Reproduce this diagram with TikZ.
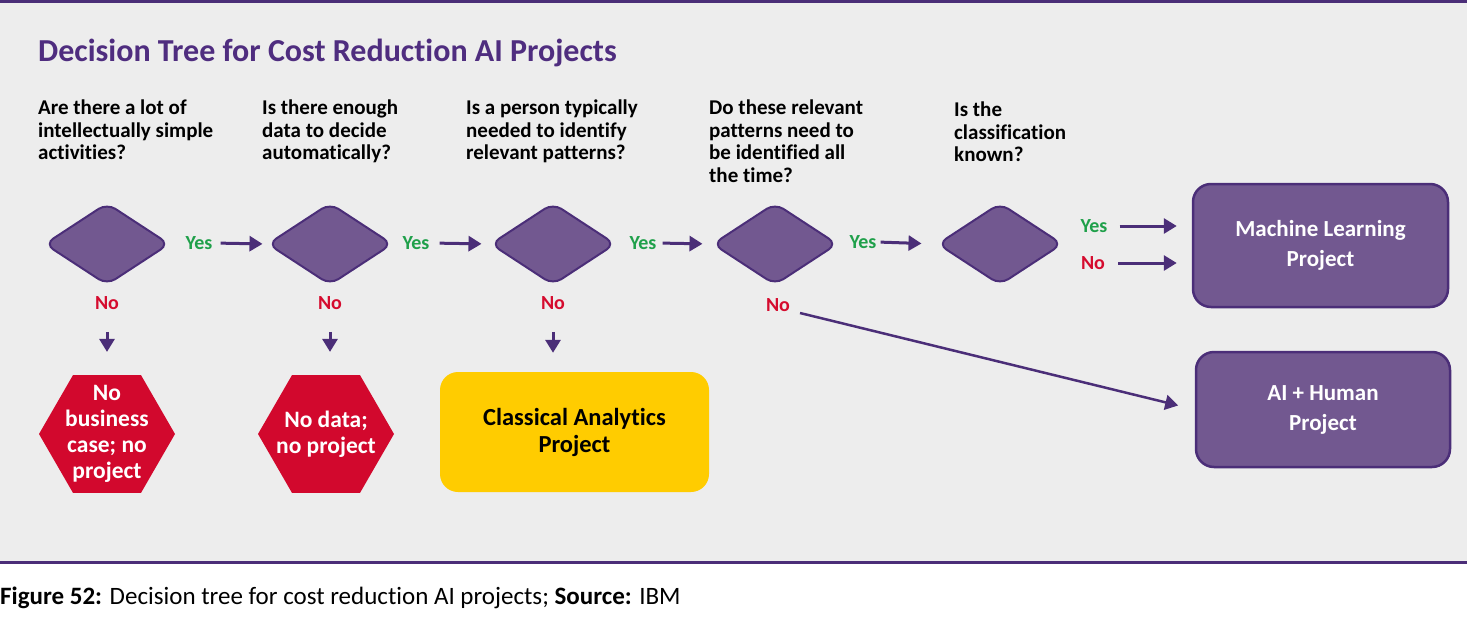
\documentclass[tikz,border=0pt]{standalone}
\usepackage{fontspec}
\setmainfont{Carlito}[Ligatures=NoCommon]
\usetikzlibrary{shapes.geometric,arrows.meta}
\definecolor{bgc}{HTML}{EDEDED}
\definecolor{purp}{HTML}{725890}
\definecolor{purpd}{HTML}{4B2E78}
\definecolor{titlec}{HTML}{4F2D7F}
\definecolor{yesc}{HTML}{1FA04A}
\definecolor{noc}{HTML}{D50B2E}
\definecolor{hexc}{HTML}{D2082D}
\definecolor{yel}{HTML}{FFCC00}
\tikzset{
  dec/.style={diamond, draw=purpd, fill=purp, line width=2pt, rounded corners=10pt,
    minimum width=125pt, minimum height=82pt, inner sep=0pt},
  hexa/.style={regular polygon, regular polygon sides=6, fill=hexc, minimum size=136pt, inner sep=0pt},
  hextext/.style={align=center, text=white, font=\fontsize{23.5}{26}\selectfont\bfseries, inner sep=0pt},
  question/.style={anchor=north west, align=left, inner sep=0pt, font=\fontsize{21}{22.5}\selectfont\bfseries},
  yeslab/.style={text=yesc, font=\fontsize{20}{22}\selectfont\bfseries, inner sep=0pt},
  nolab/.style={text=noc, font=\fontsize{20}{22}\selectfont\bfseries, inner sep=0pt},
  arr/.style={draw=purpd, line width=3pt, -{Triangle[length=13pt,width=15pt]}},
  resbox/.style={draw=purpd, fill=purp, line width=2.5pt, rounded corners=18pt, align=center,
    text=white, font=\fontsize{23}{30}\selectfont\bfseries},
}
\begin{document}
\begin{tikzpicture}[x=1pt,y=-1pt]
\useasboundingbox (0,0) rectangle (1467,618);
\fill[white] (0,0) rectangle (1467,618);
\fill[bgc] (0,3) rectangle (1467,562);
\draw[purpd, line width=3pt] (0,2) -- (1467,2);
\draw[purpd, line width=3pt] (0,562) -- (1467,562);

\node[anchor=base west, inner sep=0pt, text=titlec, font=\fontsize{32}{36}\selectfont\bfseries] (title) at (38,62) {Decision Tree for Cost Reduction AI Projects};

\node[question] (q1) at (38,100) {Are there a lot of\\intellectually simple\\activities?};
\node[question] (q2) at (262,100) {Is there enough\\data to decide\\automatically?};
\node[question] (q3) at (466,100) {Is a person typically\\needed to identify\\relevant patterns?};
\node[question] (q4) at (709,100) {Do these relevant\\patterns need to\\be identified all\\the time?};
\node[question] (q5) at (954,102) {Is the\\classification\\known?};

\node[dec] (d1) at (107,244) {};
\node[dec] (d2) at (330,244) {};
\node[dec] (d3) at (553,244) {};
\node[dec] (d4) at (775,244) {};
\node[dec] (d5) at (1000,244) {};

\node[yeslab] (y1) at (199,243) {Yes};
\node[yeslab] (y2) at (416,243) {Yes};
\node[yeslab] (y3) at (643,243) {Yes};
\node[yeslab] (y4) at (863,242) {Yes};
\node[yeslab] (y5) at (1094,226) {Yes};
\node[nolab] (n5) at (1093,263) {No};

\node[nolab] (n1) at (107,303) {No};
\node[nolab] (n2) at (330,303) {No};
\node[nolab] (n3) at (553,303) {No};
\node[nolab] (n4) at (778,305) {No};

\node[hexa] (h1) at (107,434) {};
\node[hextext] (ht1) at (h1.center) {No\\business\\case; no\\project};
\node[hexa] (h2) at (326,434) {};
\node[hextext] (ht2) at (h2.center) {No data;\\no project};

\node[fill=yel, rounded corners=18pt, minimum width=269pt, minimum height=120pt, align=center,
  font=\fontsize{24.5}{27}\selectfont\bfseries] (ca) at (574.5,432) {Classical Analytics\\Project};

\node[resbox, minimum width=255pt, minimum height=123pt] (ml) at (1320.5,245.5) {Machine Learning\\Project};
\node[resbox, minimum width=254pt, minimum height=115pt] (ai) at (1323,409.5) {AI + Human\\Project};

\draw[arr, shorten <=8pt, shorten >=4pt] (y1.east) -- (d2.west);
\draw[arr, shorten <=10pt, shorten >=8pt] (y2.east) -- (d3.west);
\draw[arr, shorten <=6pt, shorten >=9pt] (y3.east) -- (d4.west);
\draw[arr, shorten <=4pt, shorten >=15pt] (y4.east) -- (d5.west);
\draw[arr, shorten <=12pt, shorten >=15pt] (y5.east) -- (y5.east -| ml.west);
\draw[arr, shorten <=13pt, shorten >=15pt] (n5.east) -- (n5.east -| ml.west);

\draw[arr, shorten <=22pt, shorten >=23pt] (n1.south) -- (h1.north);
\draw[arr, shorten <=22pt, shorten >=23pt] (n2.south) -- (n2.south |- h2.north);
\draw[arr, shorten <=22pt, shorten >=19pt] (n3.south) -- (n3.south |- ca.north);

\coordinate (n4s) at (800,313);
\draw[arr, line width=2.5pt, shorten >=17pt] (n4s) -- (ai.west);

\node[anchor=base west, inner sep=0pt, font=\fontsize{25}{28}\selectfont] (cap) at (0,604) {\textbf{Figure 52:} Decision tree for cost reduction AI projects; \textbf{Source:} IBM};
\end{tikzpicture}
\end{document}
